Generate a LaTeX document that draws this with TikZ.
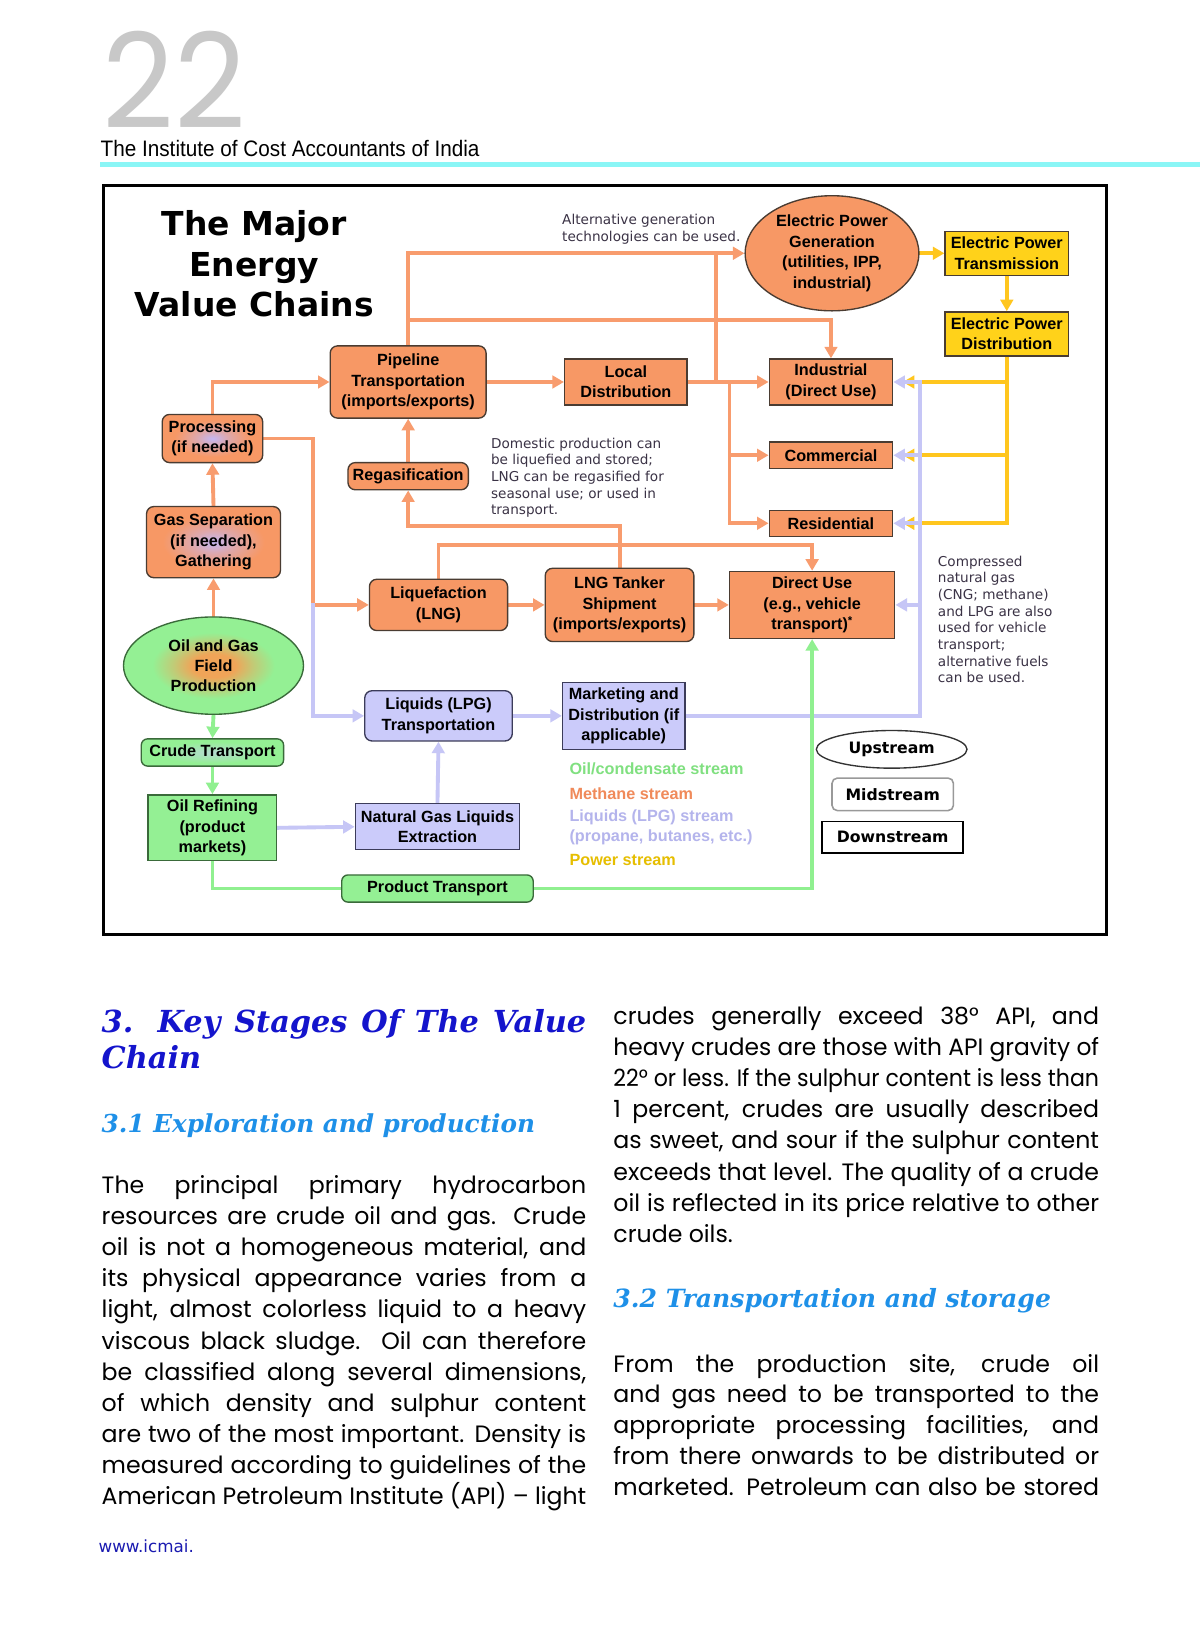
\documentclass[tikz,border=0pt]{standalone}
\usepackage{fontspec}
\usepackage{graphicx}
\setmainfont{Poppins}
\newfontfamily\dvs{DejaVu Sans}
\newfontfamily\lsans{Liberation Sans}
\newfontfamily\dser{DejaVu Serif}
\usetikzlibrary{arrows.meta,shapes.geometric}
\pgfdeclarelayer{back}
\pgfdeclarelayer{bg}
\pgfsetlayers{back,bg,main}

\definecolor{orF}{HTML}{F79865}
\definecolor{orL}{HTML}{F89C6E}
\definecolor{bordC}{HTML}{4A3C32}
\definecolor{lvF}{HTML}{CBCBFA}
\definecolor{lvL}{HTML}{C6C6F6}
\definecolor{lvB}{HTML}{3C3C5A}
\definecolor{yeF}{HTML}{FFD21A}
\definecolor{yeL}{HTML}{FFC61E}
\definecolor{grF}{HTML}{94F094}
\definecolor{grL}{HTML}{90F090}
\definecolor{grB}{HTML}{3A6A3A}
\definecolor{annC}{HTML}{3A3245}
\definecolor{cyanBar}{HTML}{8AF6F6}
\definecolor{headBlue}{HTML}{1414CC}
\definecolor{subBlue}{HTML}{1E90E8}
\definecolor{greyNum}{HTML}{C8C8C8}
\definecolor{pLav}{HTML}{C4B8F4}
\colorlet{pMix}{pLav!50!orF}
\definecolor{fOr}{HTML}{F0A458}
\colorlet{fMix}{fOr!50!grF}
\colorlet{cLav}{lvF!60!grF}
\definecolor{lgG}{HTML}{80E080}
\definecolor{lgO}{HTML}{F08A5A}
\definecolor{lgL}{HTML}{B4B4EC}
\definecolor{lgY}{HTML}{E6BE00}
\definecolor{footB}{HTML}{1A1AB0}

\pgfdeclareradialshading{procsh}{\pgfpoint{0bp}{0bp}}{color(0bp)=(pLav); color(8bp)=(pMix); color(19bp)=(orF); color(50bp)=(orF)}
\pgfdeclareradialshading{fieldsh}{\pgfpoint{0bp}{0bp}}{color(0bp)=(fOr); color(6bp)=(fOr); color(11bp)=(fMix); color(17bp)=(grF); color(50bp)=(grF)}
\pgfdeclareradialshading{crudesh}{\pgfpoint{0bp}{0bp}}{color(0bp)=(cLav); color(20bp)=(grF); color(50bp)=(grF)}

\newcommand\bxfont{\lsans\bfseries\fontsize{15.5}{19.5}\selectfont}
\newcommand\stfont{\dvs\bfseries\fontsize{15}{18}\selectfont}
\newcommand\bodyf{\fontsize{22.6}{29.7}\selectfont}
\newcommand\hdf{\dser\bfseries\itshape}
\newcommand\jl[2]{\setbox0=\hbox{#2}\ifdim\wd0>#1\relax\resizebox{#1}{\ht0}{#2}\else\makebox[#1][s]{#2}\fi}

\begin{document}
\begin{tikzpicture}[x=1pt,y=-1pt,
  box/.style={rectangle, draw=bordC, line width=1.3pt, inner sep=0pt, align=center, font=\bxfont, text=black},
  obox/.style={box, fill=orF},
  orbox/.style={obox, rounded corners=7pt},
  ybox/.style={box, fill=yeF},
  lbox/.style={box, fill=lvF, draw=lvB},
  lrbox/.style={lbox, rounded corners=7pt},
  gbox/.style={box, fill=grF, draw=grB},
  grbox/.style={gbox, rounded corners=6pt},
  sz/.style 2 args={minimum width=#1pt, minimum height=#2pt},
  cn/.style={line width=3.7pt, line cap=rect, line join=miter},
  tip/.style={-{Triangle[length=11pt,width=12pt]}},
  oln/.style={cn, draw=orL},
  oar/.style={oln, tip},
  lln/.style={cn, draw=lvL},
  lar/.style={lln, tip},
  yln/.style={cn, draw=yeL},
  yar/.style={yln, tip},
  gln/.style={cn, draw=grL},
  gar/.style={gln, tip},
  ann/.style={anchor=north west, inner sep=0pt, align=left, text=annC},
  leg/.style={anchor=west, inner sep=0pt, font=\lsans\bfseries\fontsize{15.5}{18}\selectfont},
  body/.style={anchor=base west, inner sep=0pt, font=\bodyf}
]
\path[use as bounding box] (0,0) rectangle (1147,1568);
\begin{pgfonlayer}{back}
\fill[white] (0,0) rectangle (1147,1568);
\end{pgfonlayer}

% ---------- page header ----------
\node[anchor=south west, inner sep=0pt, text=greyNum] (pnum) at (98,123) {\resizebox{137pt}{93pt}{22}};
\node[anchor=base west, inner sep=0pt] (inst) at (96,150) {\resizebox{362pt}{15.5pt}{\lsans The Institute of Cost Accountants of India}};
\fill[cyanBar] (96,155) rectangle (1147,160);

% ---------- diagram frame ----------
\draw[line width=3pt] (99,177) rectangle (1057,893);

\node[font=\dvs\bfseries\fontsize{31.5}{38.5}\selectfont, align=center, inner sep=0pt] (title) at (243,252) {The Major\\Energy\\Value Chains};

% ---------- nodes ----------
\node[obox, ellipse, sz={166}{110}] (gen) at (795,242) {Electric Power\\Generation\\(utilities, IPP,\\industrial)};
\node[ybox, sz={118}{42}] (trans) at (962,242) {Electric Power\\Transmission};
\node[ybox, sz={118}{42}] (dist) at (962,319) {Electric Power\\Distribution};
\node[orbox, sz={149}{69}] (pipe) at (390,365) {Pipeline\\Transportation\\(imports/exports)};
\node[obox, sz={117}{44}] (local) at (598,365) {Local\\Distribution};
\node[obox, sz={118}{44}] (indus) at (794,365) {Industrial\\(Direct Use)};
\node[obox, sz={118}{25}] (comm) at (794,435) {Commercial};
\node[obox, sz={118}{25}] (resid) at (794,500) {Residential};
\node[orbox, shading=procsh, sz={96}{46}] (proc) at (203,419) {Processing\\(if needed)};
\node[orbox, sz={115}{26}] (regas) at (390,455) {Regasification};
\node[orbox, shading=procsh, sz={128}{68}] (gassep) at (204,518) {Gas Separation\\(if needed),\\Gathering};
\node[orbox, sz={132}{49}] (liq) at (419,578) {Liquefaction\\(LNG)};
\node[orbox, sz={142}{70}] (lng) at (592,578) {LNG Tanker\\Shipment\\(imports/exports)};
\node[obox, sz={158}{64}] (direct) at (776,578) {Direct Use\\(e.g., vehicle\\transport)\textsuperscript{*}};
\node[gbox, ellipse, shading=fieldsh, sz={172}{93}] (field) at (204,636) {Oil and Gas\\Field\\Production};
\node[lrbox, sz={141}{48}] (lpg) at (419,684) {Liquids (LPG)\\Transportation};
\node[lbox, sz={117}{64}] (mkt) at (596,684) {Marketing and\\Distribution (if\\applicable)};
\node[grbox, shading=crudesh, sz={136}{26}] (crude) at (203,719) {Crude Transport};
\node[gbox, sz={123}{63}] (refin) at (203,791) {Oil Refining\\(product\\markets)};
\node[lbox, sz={157}{44}] (ngl) at (418,790) {Natural Gas Liquids\\Extraction};
\node[grbox, sz={183}{26}] (prod) at (418,849) {Product Transport};

\node[ellipse, draw=black!80, line width=1.3pt, fill=white, inner sep=0pt, sz={144}{36}, font=\stfont] (up) at (852,716) {Upstream};
\node[rectangle, rounded corners=5pt, draw=black!40, line width=1.5pt, fill=white, inner sep=0pt, sz={116}{31}, font=\stfont] (mid) at (853,759) {Midstream};
\node[rectangle, draw=black, line width=1.8pt, fill=white, inner sep=0pt, sz={135}{30}, font=\stfont] (down) at (853,800) {Downstream};

% ---------- annotations ----------
\node[ann, font=\dvs\fontsize{13}{17}\selectfont] (alt) at (537,204) {Alternative generation\\technologies can be used.};
\node[ann, font=\dvs\fontsize{13}{16}\selectfont] (dom) at (469,418) {Domestic production can\\be liquefied and stored;\\LNG can be regasified for\\seasonal use; or used in\\transport.};
\node[ann, font=\dvs\fontsize{13}{15.9}\selectfont] (cng) at (896,531) {Compressed\\natural gas\\(CNG; methane)\\and LPG are also\\used for vehicle\\transport;\\alternative fuels\\can be used.};

\node[leg, text=lgG] (lg1) at (544,735) {Oil/condensate stream};
\node[leg, text=lgO] (lg2) at (544,758) {Methane stream};
\node[leg, text=lgL] (lg3) at (544,781) {Liquids (LPG) stream};
\node[leg, text=lgL] (lg4) at (544,800) {(propane, butanes, etc.)};
\node[leg, text=lgY] (lg5) at (544,822) {Power stream};

% ---------- connectors ----------
\begin{pgfonlayer}{bg}
\coordinate (j2) at (299,578);
\coordinate (p2) at (390,306);
\coordinate (v1) at (684,242);
\coordinate (v2) at (697,365);
\coordinate (r1) at (592,503);
\coordinate (r2) at (419,521);
\coordinate (lv) at (879,684);

% orange
\draw[oar] (proc.north) |- (pipe.west);
\draw[oar] (proc.east) -| (j2) -- (liq.west);
\draw[oar] (gassep.north) -- (proc.south);
\draw[oar] (field.north) -- (gassep.south);
\draw[oar] (pipe.east) -- (local.west);
\draw[oar] (pipe.north) |- (gen.west);
\draw[oar] (p2) -| (indus.north);
\draw[oln] (v1) -- (v1 |- local.east);
\draw[oar] (local.east) -- (indus.west);
\draw[oar] (v2) |- (resid.west);
\draw[oar] (v2 |- comm.west) -- (comm.west);
\draw[oar] (regas.north) -- (pipe.south);
\draw[oar] (lng.north) -- (r1) -| (regas.south);
\draw[oar] (liq.north) -- (r2) -| (direct.north);
\draw[oar] (liq.east) -- (lng.west);
\draw[oar] (lng.east) -- (direct.west);

% yellow
\draw[yar] (gen.east) -- (trans.west);
\draw[yar] (trans.south) -- (dist.north);
\draw[yar] (dist.south) |- ([xshift=9pt]resid.east);
\draw[yar] (dist.south |- comm.east) -- ([xshift=9pt]comm.east);
\draw[yar] (dist.south |- indus.east) -- ([xshift=9pt]indus.east);

% lavender
\draw[lar] (j2) |- (lpg.west);
\draw[lar] (refin.east) -- (ngl.west);
\draw[lar] (ngl.north) -- (lpg.south);
\draw[lar] (lpg.east) -- (mkt.west);
\draw[lln] (mkt.east) -| (lv |- indus.east);
\draw[lar] (lv |- indus.east) -- (indus.east);
\draw[lar] (lv |- comm.east) -- (comm.east);
\draw[lar] (lv |- resid.east) -- (resid.east);
\draw[lar] (lv |- direct.east) -- (direct.east);

% green
\draw[gar] (field.south) -- (crude.north);
\draw[gar] (crude.south) -- (refin.north);
\draw[gln] (refin.south) |- (prod.west);
\draw[gar] (prod.east) -| (direct.south);
\end{pgfonlayer}

% ---------- body text ----------
\node[anchor=base west, inner sep=0pt, text=headBlue, font=\hdf\fontsize{29}{35}\selectfont] (h1a) at (97,987) {\jl{463pt}{3. Key Stages Of The Value}};
\node[anchor=base west, inner sep=0pt, text=headBlue, font=\hdf\fontsize{29}{35}\selectfont] (h1b) at (97,1021) {Chain};
\node[anchor=base west, inner sep=0pt, text=subBlue, font=\hdf\fontsize{23}{28}\selectfont] (h2) at (97,1082) {\resizebox{414pt}{!}{3.1 Exploration and production}};
\node[anchor=base west, inner sep=0pt, text=subBlue, font=\hdf\fontsize{23}{28}\selectfont] (h3) at (586,1249) {\resizebox{418pt}{!}{3.2 Transportation and storage}};

\foreach \txt [count=\i] in {{The principal primary hydrocarbon},{resources are crude oil and gas. Crude},{oil is not a homogeneous material, and},{its physical appearance varies from a},{light, almost colorless liquid to a heavy},{viscous black sludge. Oil can therefore},{be classified along several dimensions,},{of which density and sulphur content},{are two of the most important. Density is},{measured according to guidelines of the},{American Petroleum Institute (API) – light}}
  \node[body] (bl\i) at (97,{1140+29.8*(\i-1)}) {\jl{463pt}{\txt}};

\foreach \txt [count=\i] in {{crudes generally exceed 38° API, and},{heavy crudes are those with API gravity of},{22° or less. If the sulphur content is less than},{1 percent, crudes are usually described},{as sweet, and sour if the sulphur content},{exceeds that level. The quality of a crude},{oil is reflected in its price relative to other}}
  \node[body] (br\i) at (586,{979+29.7*(\i-1)}) {\jl{464pt}{\txt}};
\node[body] (br8) at (586,1187) {crude oils.};

\foreach \txt [count=\i] in {{From the production site, crude oil},{and gas need to be transported to the},{appropriate processing facilities, and},{from there onwards to be distributed or},{marketed. Petroleum can also be stored}}
  \node[body] (bs\i) at (586,{1311+29.5*(\i-1)}) {\jl{464pt}{\txt}};

\node[anchor=base west, inner sep=0pt, text=footB, font=\dvs\fontsize{16}{19}\selectfont] (foot) at (94,1483) {www.icmai.};
\end{tikzpicture}
\end{document}
